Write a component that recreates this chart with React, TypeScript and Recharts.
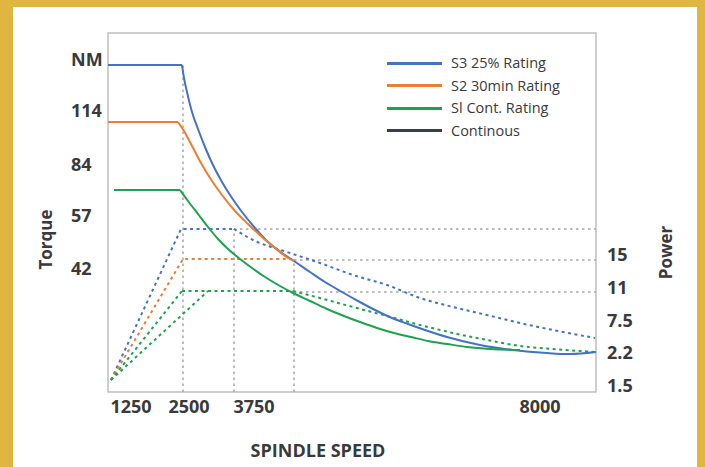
import { LineChart, Line, XAxis, YAxis, ReferenceLine, ReferenceArea, Legend, Label } from "recharts"

// schematic axes: x = speed position along the plot, y = level inside the plot
const speedTicks = [23, 81, 146, 432]
const speedLabels = ["1250", "2500", "3750", "8000"]
const torqueTicks = [332, 281, 227, 176, 123]
const torqueLabels = ["NM", "114", "84", "57", "42"]
const powerTicks = [137, 104, 71, 39, 6]
const powerLabels = ["15", "11", "7.5", "2.2", "1.5"]

// torque curves (solid)
const s3Flat = [[0, 327], [74, 327]]
const s3Curve = [
  [74, 327], [76, 314], [79, 300], [84, 280], [90, 263], [97, 245], [104, 229], [114, 210],
  [124, 194], [134, 180], [147, 164], [160, 150], [174, 139], [186, 131], [202, 120], [217, 110],
  [234, 100], [250, 91], [267, 82], [284, 74], [300, 68], [317, 62], [339, 55], [372, 47],
  [405, 42], [439, 39], [462, 38], [488, 40],
]
const s2Flat = [[0, 270], [70, 270]]
const s2Curve = [
  [70, 270], [76, 261], [83, 248], [93, 229], [104, 211], [114, 197], [127, 181], [140, 168],
  [154, 155], [167, 144], [180, 134], [186, 131],
]
const s1Flat = [[6, 202], [72, 202]]
const s1Curve = [
  [72, 202], [80, 191], [90, 178], [100, 165], [110, 153], [120, 143], [132, 133], [144, 124],
  [157, 115], [172, 106], [185, 99], [202, 91], [219, 83], [236, 76], [252, 70], [269, 64],
  [286, 59], [303, 55], [320, 51], [339, 48], [359, 45], [382, 43], [412, 42],
]

// power curves (dashed)
const s3PowerRise = [[3, 12], [73, 163], [126, 163]]
const s3PowerFall = [
  [126, 163], [145, 152], [179, 140], [212, 129], [245, 117], [279, 107], [312, 94], [345, 85],
  [379, 77], [412, 69], [445, 62], [487, 54],
]
const s2PowerRise = [[3, 12], [75, 133], [186, 133]]
const s1PowerRiseA = [[3, 12], [74, 101]]
const s1PowerRiseB = [[3, 12], [100, 101]]
const s1PowerFlat = [[74, 101], [185, 101]]
const s1PowerFall = [
  [185, 101], [212, 94], [245, 85], [279, 76], [312, 67], [345, 59], [379, 52], [412, 46],
  [445, 43], [487, 40],
]

// grey guide lines
const guideVertical = [[75, 0, 327], [126, 0, 163], [186, 0, 131]]
const guideHorizontal = [[163, 126, 488], [132, 186, 488], [100, 186, 488]]

const BLUE = "#4472C4"
const ORANGE = "#ED7D31"
const GREEN = "#1FA24F"
const NAVY = "#333F50"
const GUIDE = "#A6A6A6"
const TEXT = "#3A3A3A"

const legendItems = [
  { label: "S3 25% Rating", color: BLUE },
  { label: "S2 30min Rating", color: ORANGE },
  { label: "Sl Cont. Rating", color: GREEN },
  { label: "Continous", color: NAVY },
]

const toPoints = (pairs: number[][]) => pairs.map(([x, y]) => ({ x, y }))

const torqueSeries = [
  { id: "s3Flat", data: s3Flat, color: BLUE, curve: "linear" },
  { id: "s3Curve", data: s3Curve, color: BLUE, curve: "monotone" },
  { id: "s2Flat", data: s2Flat, color: ORANGE, curve: "linear" },
  { id: "s2Curve", data: s2Curve, color: ORANGE, curve: "monotone" },
  { id: "s1Flat", data: s1Flat, color: GREEN, curve: "linear" },
  { id: "s1Curve", data: s1Curve, color: GREEN, curve: "monotone" },
]

const powerSeries = [
  { id: "s3PowerRise", data: s3PowerRise, color: BLUE, curve: "linear" },
  { id: "s3PowerFall", data: s3PowerFall, color: BLUE, curve: "monotone" },
  { id: "s2PowerRise", data: s2PowerRise, color: ORANGE, curve: "linear" },
  { id: "s1PowerRiseA", data: s1PowerRiseA, color: GREEN, curve: "linear" },
  { id: "s1PowerRiseB", data: s1PowerRiseB, color: GREEN, curve: "linear" },
  { id: "s1PowerFlat", data: s1PowerFlat, color: GREEN, curve: "linear" },
  { id: "s1PowerFall", data: s1PowerFall, color: GREEN, curve: "monotone" },
]

const tickFont = { fill: TEXT, fontSize: 18, fontWeight: 700 }

function TickText({ x, y, text, anchor }: { x: number; y: number; text: string; anchor: string }) {
  return (
    <text x={x} y={y} dy="0.35em" textAnchor={anchor} {...tickFont}>
      {text}
    </text>
  )
}

function LegendBox() {
  return (
    <div>
      {legendItems.map((item) => (
        <div key={item.label} style={{ display: "flex", alignItems: "center", height: 22.5 }}>
          <div style={{ width: 55, height: 3, background: item.color, marginRight: 9 }} />
          <span style={{ fontSize: 14.5, color: TEXT, lineHeight: 1 }}>{item.label}</span>
        </div>
      ))}
    </div>
  )
}

export default function App() {
  return (
    <div
      style={{
        position: "fixed",
        left: 0,
        top: 0,
        width: 705,
        height: 467,
        background: "#DFB641",
        fontFamily: "'Open Sans', sans-serif",
        overflow: "hidden",
      }}
    >
      <div style={{ position: "absolute", left: 13, top: 7, width: 684, height: 460, background: "#FFFFFF" }} />
      <div style={{ position: "absolute", left: 0, top: 0 }}>
        <LineChart width={705} height={467} margin={{ top: 33, right: 0, bottom: 0, left: 0 }}>
          <XAxis
            type="number"
            dataKey="x"
            domain={[0, 488]}
            ticks={speedTicks}
            interval={0}
            height={75}
            axisLine={false}
            tickLine={false}
            tickSize={0}
            tickMargin={15}
            tick={(p: any) => (
              <TickText x={p.x} y={p.y} text={speedLabels[speedTicks.indexOf(p.payload.value)]} anchor="middle" />
            )}
          >
            <Label value="SPINDLE SPEED" position="center" dx={-34} dy={21} fill={TEXT} fontSize={18} fontWeight={700} />
          </XAxis>
          <YAxis
            yAxisId="left"
            type="number"
            domain={[0, 359]}
            ticks={torqueTicks}
            interval={0}
            width={108}
            axisLine={false}
            tickLine={false}
            tickSize={0}
            tickMargin={37}
            tick={(p: any) => (
              <TickText x={p.x} y={p.y} text={torqueLabels[torqueTicks.indexOf(p.payload.value)]} anchor="start" />
            )}
          >
            <Label value="Torque" position="center" angle={-90} dx={-8} dy={27} fill={TEXT} fontSize={17} fontWeight={700} />
          </YAxis>
          <YAxis
            yAxisId="right"
            orientation="right"
            type="number"
            domain={[0, 359]}
            ticks={powerTicks}
            interval={0}
            width={109}
            axisLine={false}
            tickLine={false}
            tickSize={0}
            tickMargin={11}
            tick={(p: any) => (
              <TickText x={p.x} y={p.y} text={powerLabels[powerTicks.indexOf(p.payload.value)]} anchor="start" />
            )}
          >
            <Label value="Power" position="center" angle={-90} dx={15} dy={40} fill={TEXT} fontSize={17} fontWeight={700} />
          </YAxis>
          <ReferenceArea
            yAxisId="left"
            x1={0}
            x2={488}
            y1={0}
            y2={359}
            fill="none"
            stroke="#BFBFBF"
            strokeWidth={1.5}
          />
          {guideVertical.map(([x, y1, y2], i) => (
            <ReferenceLine
              key={"gv" + i}
              yAxisId="left"
              segment={[{ x, y: y1 }, { x, y: y2 }]}
              stroke={GUIDE}
              strokeWidth={1.5}
              strokeDasharray="2.5 3.5"
            />
          ))}
          {guideHorizontal.map(([y, x1, x2], i) => (
            <ReferenceLine
              key={"gh" + i}
              yAxisId="left"
              segment={[{ x: x1, y }, { x: x2, y }]}
              stroke={GUIDE}
              strokeWidth={1.5}
              strokeDasharray="2.5 3.5"
            />
          ))}
          {powerSeries.map((s) => (
            <Line
              key={s.id}
              yAxisId="right"
              data={toPoints(s.data)}
              dataKey="y"
              type={s.curve as any}
              stroke={s.color}
              strokeWidth={2}
              strokeDasharray="3 3.5"
              dot={false}
              activeDot={false}
              isAnimationActive={false}
              legendType="none"
            />
          ))}
          {torqueSeries.map((s) => (
            <Line
              key={s.id}
              yAxisId="left"
              data={toPoints(s.data)}
              dataKey="y"
              type={s.curve as any}
              stroke={s.color}
              strokeWidth={2}
              dot={false}
              activeDot={false}
              isAnimationActive={false}
              legendType="none"
            />
          ))}
          <Legend
            verticalAlign="middle"
            align="center"
            content={() => <LegendBox />}
            wrapperStyle={{ left: 387, top: 52, width: 220 }}
          />
        </LineChart>
      </div>
    </div>
  )
}
